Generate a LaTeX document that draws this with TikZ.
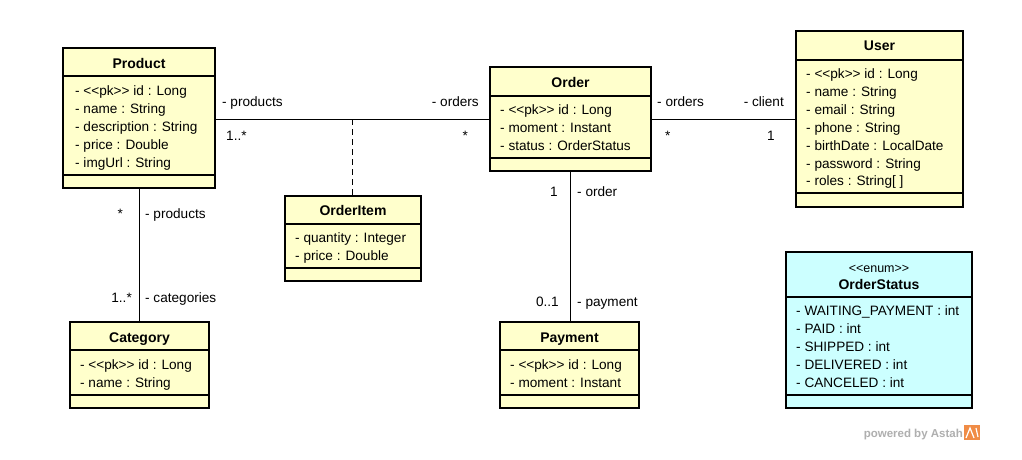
\documentclass[tikz,border=0pt]{standalone}
\usepackage{fontspec}
\setmainfont{Liberation Sans}
\definecolor{classyellow}{RGB}{255,255,204}
\definecolor{enumcyan}{RGB}{204,255,255}
\definecolor{markgray}{RGB}{175,175,175}
\definecolor{markorange}{RGB}{240,140,70}
% <<text>>, each bracket boxed so that no guillemet ligature forms
\newcommand\stereo[1]{\mbox{<}\mbox{<}#1\mbox{>}\mbox{>}}
% class box: name, x1, y1, x2, y2, first separator, second separator, fill
\newcommand\umlclass[8]{%
  \node[classbox, fill=#8, minimum width=#4-#2, minimum height=#5-#3] (#1) at (#2,#3) {};
  \draw[sepline] (#1.west |- 0,#6) -- (#1.east |- 0,#6);
  \draw[sepline] (#1.west |- 0,#7) -- (#1.east |- 0,#7);
  \node[classbox, fill=none, minimum width=#4-#2, minimum height=#5-#3] at (#2,#3) {};
}
% attribute lines: name, x, first baseline, list
\newcommand\attrs[4]{%
  \foreach \t [count=\i from 0] in {#4}
    \node[attr] (#1-a\i) at (#2, #3+17.9*\i) {\t};
}
\begin{document}
\begin{tikzpicture}[x=1pt,y=-1pt,
  classbox/.style={draw=black, line width=2.5pt, inner sep=0pt, outer sep=0pt, anchor=north west},
  sepline/.style={line width=1.1pt},
  title/.style={font=\fontsize{14}{16}\selectfont\bfseries, inner sep=0pt, anchor=base},
  stereotype/.style={font=\fontsize{12.5}{15}\selectfont, inner sep=0pt, anchor=base},
  attr/.style={font=\fontsize{13.6}{16}\selectfont, inner sep=0pt, anchor=base west},
  role/.style={font=\fontsize{13.6}{16}\selectfont, inner sep=0pt},
  assoc/.style={line width=1pt},
]
\useasboundingbox (0,0) rectangle (1022,460);
\fill[white] (0,0) rectangle (1022,460);

% classes
\umlclass{product}{63}{48}{215}{188}{76}{175}{classyellow}
\node[title] (product-t) at (139,69) {Product};
\attrs{product}{75}{95.5}{- \stereo{pk} id : Long, - name : String, - description : String, - price : Double, - imgUrl : String}

\umlclass{order}{490}{67}{651}{171}{96}{158}{classyellow}
\node[title] (order-t) at (570.5,87) {Order};
\attrs{order}{500}{114.5}{- \stereo{pk} id : Long, - moment : Instant, - status : OrderStatus}

\umlclass{user}{796}{31}{963}{207}{60}{193}{classyellow}
\node[title] (user-t) at (879.5,51) {User};
\attrs{user}{806}{78.5}{- \stereo{pk} id : Long, - name : String, - email : String, - phone : String, - birthDate : LocalDate, - password : String, - roles : String[ ]}

\umlclass{orderitem}{285}{196}{421}{281}{224}{268}{classyellow}
\node[title] (orderitem-t) at (353,215) {OrderItem};
\attrs{orderitem}{295}{242.5}{- quantity : Integer, - price : Double}

\umlclass{category}{70}{322}{209}{408}{350}{395}{classyellow}
\node[title] (category-t) at (139.5,342) {Category};
\attrs{category}{80}{369.5}{- \stereo{pk} id : Long, - name : String}

\umlclass{payment}{500}{322}{639}{408}{350}{395}{classyellow}
\node[title] (payment-t) at (569.5,342) {Payment};
\attrs{payment}{510}{369.5}{- \stereo{pk} id : Long, - moment : Instant}

\umlclass{orderstatus}{786}{252}{972}{408}{297}{395}{enumcyan}
\node[stereotype] (orderstatus-s) at (879,272) {\stereo{enum}};
\node[title] (orderstatus-t) at (879,289) {OrderStatus};
\attrs{orderstatus}{796}{315.5}{- WAITING\_PAYMENT : int, - PAID : int, - SHIPPED : int, - DELIVERED : int, - CANCELED : int}

% associations
\coordinate (itemjoin) at (352,119);
\draw[assoc] (product.east |- itemjoin) -- (order.west |- itemjoin);
\draw[assoc, dash pattern=on 6pt off 4pt] (itemjoin) -- (itemjoin |- orderitem.north);
\draw[assoc] (order.east |- itemjoin) -- (user.west |- itemjoin);
\draw[assoc] (product.south) -- (product.south |- category.north);
\draw[assoc] (order.south) -- (order.south |- payment.north);

% role names and multiplicities
\node[role, anchor=base west] (r1) at (222,106.5) {- products};
\node[role, anchor=base west] (m1) at (226,140) {1..*};
\node[role, anchor=base east] (r2) at (479,106.5) {- orders};
\node[role, anchor=base east] (m2) at (468,140) {*};
\node[role, anchor=base west] (r3) at (657,106.5) {- orders};
\node[role, anchor=base west] (m3) at (665,140) {*};
\node[role, anchor=base east] (r4) at (784,106.5) {- client};
\node[role, anchor=base east] (m4) at (775,140) {1};
\node[role, anchor=base east] (m5) at (123,218.5) {*};
\node[role, anchor=base west] (r5) at (145,218.5) {- products};
\node[role, anchor=base east] (m6) at (132,302.5) {1..*};
\node[role, anchor=base west] (r6) at (145,302.5) {- categories};
\node[role, anchor=base east] (m7) at (558,196.5) {1};
\node[role, anchor=base west] (r7) at (577,196.5) {- order};
\node[role, anchor=base east] (m8) at (559,306.5) {0..1};
\node[role, anchor=base west] (r8) at (577,306.5) {- payment};

% tool mark
\node[font=\fontsize{11.5}{13}\selectfont\bfseries, text=markgray, inner sep=0pt, anchor=base east] (mark) at (963,437) {powered by Astah};
\fill[markorange] (964,425) rectangle (980,440);
\draw[white, line width=1.2pt] (966,438) -- (970,428) -- (974,438) (976,428) -- (978,437);
\end{tikzpicture}
\end{document}
